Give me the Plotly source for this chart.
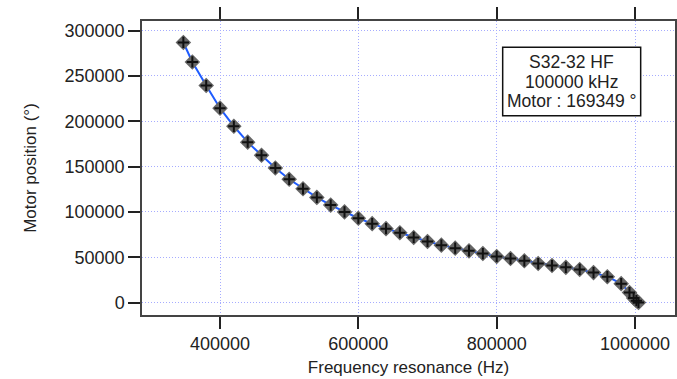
import plotly.graph_objects as go

freq_hz = [347000, 360000, 380000, 400000, 420000, 440000, 460000, 480000, 500000,
           520000, 540000, 560000, 580000, 600000, 620000, 640000, 660000, 680000,
           700000, 720000, 740000, 760000, 780000, 800000, 820000, 840000, 860000,
           880000, 900000, 920000, 940000, 960000, 980000, 992000, 998000, 1002000, 1005000]
motor_pos = [287000, 265500, 239500, 214500, 194500, 177000, 162500, 148500, 136000,
             125500, 116000, 107500, 100000, 93000, 87000, 81500, 77000, 71800,
             67300, 63300, 60000, 57000, 54000, 50800, 48500, 46000, 43000,
             40800, 38800, 36500, 33000, 28500, 20800, 11000, 5000, 2000, 0]

x_ticks = [400000, 600000, 800000, 1000000]
y_ticks = [0, 50000, 100000, 150000, 200000, 250000, 300000]

legend_lines = ["S32-32 HF", "100000 kHz", "Motor : 169349 °"]

FONT = "Liberation Sans, Arial, sans-serif"

fig = go.Figure()
fig.add_trace(go.Scatter(
    x=freq_hz, y=motor_pos, mode="lines+markers",
    line=dict(color="#1f5cff", width=2),
    marker=dict(symbol="diamond", size=12, color="#666666",
                line=dict(width=0, color="#666666")),
    showlegend=False, hoverinfo="skip"))
fig.add_trace(go.Scatter(
    x=freq_hz, y=motor_pos, mode="markers",
    marker=dict(symbol="cross-thin-open", size=8, color="#111111",
                line=dict(color="#111111", width=2)),
    showlegend=False, hoverinfo="skip"))

axis_common = dict(
    showline=True, linecolor="#444444", linewidth=1.5,
    ticks="outside", ticklen=12, tickwidth=1.5, tickcolor="#222222",
    showgrid=True, gridcolor="#a6acff", gridwidth=1, griddash="1px,2px",
    zeroline=False, mirror="ticks", tickformat="d", automargin=False,
    tickfont=dict(family=FONT, size=18, color="#222222"),
)

fig.update_xaxes(range=[287200, 1057800], tickvals=x_ticks,
                 title=dict(text="Frequency resonance (Hz)",
                            font=dict(family=FONT, size=17, color="#222222"),
                            standoff=8),
                 **axis_common)
fig.update_yaxes(range=[-13800, 310700], tickvals=y_ticks,
                 title=dict(text="Motor position (°)",
                            font=dict(family=FONT, size=17, color="#222222"),
                            standoff=24),
                 **axis_common)

fig.add_shape(type="rect", xref="paper", yref="paper",
              x0=0.6767, x1=0.9356, y0=0.6779, y1=0.9105,
              line=dict(color="#111111", width=1.5), fillcolor="white", layer="above")
for txt, yy in zip(legend_lines, [0.8616, 0.7935, 0.7279]):
    fig.add_annotation(text=txt, xref="paper", yref="paper", x=0.806, y=yy,
                       xanchor="center", yanchor="middle", showarrow=False,
                       font=dict(family=FONT, size=17.5, color="#222222"))

fig.update_layout(
    width=677, height=379,
    margin=dict(l=142, r=2, t=21, b=64),
    paper_bgcolor="white", plot_bgcolor="white",
    font=dict(family=FONT, size=17, color="#222222"),
)

fig.write_html("out.html")
